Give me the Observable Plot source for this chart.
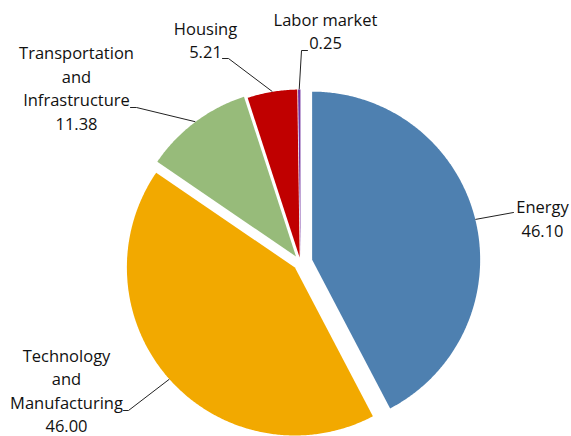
<!DOCTYPE html>
<html><head><meta charset="utf-8">
<script src="https://cdn.jsdelivr.net/npm/d3@7"></script>
<script src="https://cdn.jsdelivr.net/npm/@observablehq/plot@0.6"></script>
<style>html,body{margin:0;padding:0;background:#fff} svg{display:block}</style>
</head><body><div id="chart"></div>
<script>
// ---- data ----
const categories = ["Energy", "Technology and Manufacturing", "Transportation and Infrastructure", "Housing", "Labor market"];
const labelLines = [["Energy"], ["Technology", "and", "Manufacturing"], ["Transportation", "and", "Infrastructure"], ["Housing"], ["Labor market"]];
const values = [46.10, 46.00, 11.38, 5.21, 0.25];
const valueLabels = ["46.10", "46.00", "11.38", "5.21", "0.25"];
const colors = ["#4e80b0", "#f2a900", "#97bb7a", "#c00000", "#7030a0"];

// ---- layout (pixels relative to pie centre) ----
const W = 571, H = 436, CX = 300, CY = 262, R = 168;
const explode = [12, 7.5, 7.5, 5, 5];
const labelPos = [[242, -45], [-234, 127], [-224, -175.5], [-95, -223.5], [25, -232.5]];
const leaderStart = [[[213, -50]], [[-177, 148], [-172, 148]], [[-170, -155], [-164, -155]], [[-78, -204], [-72, -204]], [[7, -212], [1, -212]]];
const FONT = "'Open Sans', 'Noto Sans', sans-serif";

const arcs = d3.pie().sort(null).value(d => d)(values);
const polys = [], leaders = [], labels = [];
arcs.forEach((a, i) => {
  const mid = (a.startAngle + a.endAngle) / 2;
  const ox = explode[i] * Math.sin(mid), oy = -explode[i] * Math.cos(mid);
  polys.push({cat: categories[i], x: ox, y: oy});
  const n = Math.max(2, Math.ceil((a.endAngle - a.startAngle) / (Math.PI / 360)));
  for (let k = 0; k <= n; k++) {
    const t = a.startAngle + (a.endAngle - a.startAngle) * k / n;
    polys.push({cat: categories[i], x: ox + R * Math.sin(t), y: oy - R * Math.cos(t)});
  }
  polys.push({cat: categories[i], x: ox, y: oy});
  leaderStart[i].forEach(p => leaders.push({cat: categories[i], x: p[0], y: p[1]}));
  leaders.push({cat: categories[i], x: ox + (R + 0.5) * Math.sin(mid), y: oy - (R + 0.5) * Math.cos(mid)});
  labels.push({x: labelPos[i][0], y: labelPos[i][1], text: labelLines[i].concat([valueLabels[i]]).join("\n")});
});

const chart = Plot.plot({
  width: W, height: H,
  margin: 0,
  x: {domain: [-CX, W - CX], range: [0, W], axis: null},
  y: {domain: [-CY, H - CY], range: [0, H], axis: null},
  color: {domain: categories, range: colors},
  style: {fontFamily: FONT, background: "#fff"},
  marks: [
    Plot.line(polys, {x: "x", y: "y", z: "cat", fill: "cat", stroke: "none", curve: "linear"}),
    Plot.line(leaders, {x: "x", y: "y", z: "cat", stroke: "#222", strokeWidth: 1}),
    Plot.text(labels, {x: "x", y: "y", text: "text", lineAnchor: "middle", lineHeight: 1.42, fontSize: 16.5, fill: "#111"})
  ]
});
document.getElementById("chart").appendChild(chart);
</script>
</body></html>
